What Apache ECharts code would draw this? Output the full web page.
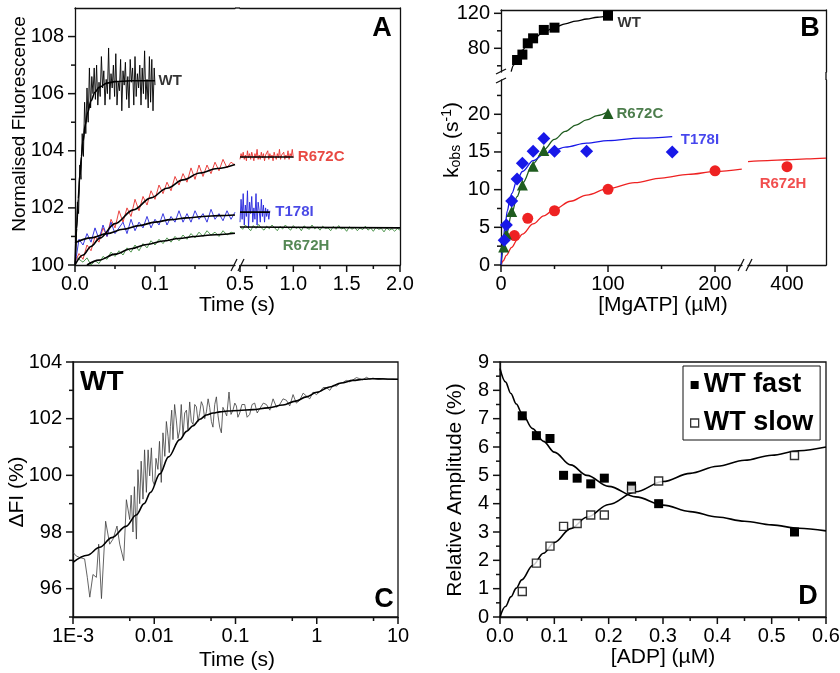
<!DOCTYPE html>
<html><head><meta charset="utf-8">
<script src="https://cdn.jsdelivr.net/npm/echarts@6/dist/echarts.min.js"></script>
<style>html,body{margin:0;padding:0;background:#fff}#c{width:840px;height:673px}</style>
</head><body><div id="c"></div>
<script>
// ================= DATA =================
// ---- Panel A: stopped-flow traces (time s, normalised fluorescence) ----
const aWtT = [0,.0015,.003,.0045,.006,.0075,.009,.0105,.012,.0135,.015,.0165,.018,.0195,.021,.0225,.024,.0255,.027,.0285,.03,.0315,.033,.0345,.036,.0375,.039,.0405,.042,.0435,.045,.0465,.048,.0495,.051,.0525,.054,.0555,.057,.0585,.06,.0615,.063,.0645,.066,.0675,.069,.0705,.072,.0735,.075,.0765,.078,.0795,.081,.0825,.084,.0855,.087,.0885,.09,.0915,.093,.0945,.096,.0975,.099,.1];
const aWtV = [100.0,100.7,102.2,101.8,103.5,103.0,104.6,103.8,105.7,104.6,106.2,105.0,106.9,105.5,106.6,106.0,106.9,105.8,107.0,105.6,106.4,105.9,107.3,106.2,106.8,105.6,106.5,106.0,107.6,105.8,106.7,106.2,107.0,105.9,107.4,105.6,106.4,106.1,107.2,105.4,106.8,106.3,107.1,105.8,106.6,105.5,107.2,106.4,106.9,105.6,107.3,105.9,106.7,106.2,107.0,105.6,106.9,106.0,107.5,105.8,106.5,105.5,107.3,105.7,107.2,105.4,106.9,106.3];
const aWtFitT = [0,.002,.004,.006,.008,.01,.013,.016,.02,.025,.03,.04,.05,.07,.1];
const aWtFitV = [100,101.28,102.31,103.14,103.8,104.33,104.93,105.36,105.75,106.05,106.22,106.37,106.42,106.45,106.45];

const aSeg1T = [0,.005,.01,.015,.02,.025,.03,.035,.04,.045,.05,.055,.06,.065,.07,.075,.08,.085,.09,.095,.1,.105,.11,.115,.12,.125,.13,.135,.14,.145,.15,.155,.16,.165,.17,.175,.18,.185,.19,.195,.2];
const aR672cV1 = [100.1,100.4,100.2,100.7,100.5,101.0,100.8,101.3,101.0,101.6,101.3,101.9,101.5,102.0,101.7,102.3,101.9,102.4,102.1,102.6,102.3,102.8,102.5,102.9,102.6,103.1,102.8,103.2,102.9,103.4,103.0,103.5,103.1,103.5,103.2,103.6,103.3,103.7,103.4,103.6,103.5];
const aT178iV1 = [100.0,100.9,100.7,101.1,100.8,101.3,100.9,101.4,101.0,101.5,101.1,101.3,101.5,101.1,101.6,101.2,101.5,101.3,101.7,101.3,101.6,101.4,101.8,101.4,101.7,101.5,101.9,101.5,101.8,101.5,101.9,101.6,101.8,101.5,101.95,101.6,101.8,101.55,101.9,101.6,101.85];
const aR672hV1 = [100.3,100.2,100.1,100.25,100.0,100.15,100.05,100.3,100.2,100.45,100.3,100.5,100.35,100.6,100.45,100.7,100.5,100.75,100.6,100.85,100.7,100.9,100.75,100.95,100.8,101.0,100.85,101.05,100.9,101.1,100.95,101.15,101.0,101.2,101.05,101.15,101.0,101.2,101.05,101.15,101.1];
const aR672cFitT = [0,.01,.02,.031,.05,.073,.095,.115,.135,.156,.178,.2];
const aR672cFitV = [100,100.35,100.65,100.94,101.45,101.93,102.35,102.69,102.98,103.22,103.38,103.52];
const aT178iFitT = [0,.02,.04,.06,.08,.1,.12,.14,.16,.18,.2];
const aT178iFitV = [100.78,100.95,101.1,101.25,101.38,101.5,101.59,101.65,101.7,101.73,101.75];
const aR672hFitT = [.015,.03,.05,.07,.09,.11,.13,.15,.17,.2];
const aR672hFitV = [100,100.17,100.38,100.57,100.72,100.84,100.93,101.0,101.05,101.11];

const aSeg2T = [.5,.51,.52,.53,.54,.55,.56,.57,.58,.59,.6,.61,.62,.63,.64,.65,.66,.67,.68,.69,.7,.71,.72,.73,.74,.75,.76,.77,.78,.79,.8,.81,.82,.83,.84,.85,.86,.87,.88,.89,.9,.91,.92,.93,.94,.95,.96,.97,.98,.99,1.0];
const aR672cV2 = [103.7,103.9,103.75,103.95,103.7,103.85,103.65,104.0,103.75,103.9,103.7,103.95,103.8,103.65,103.9,103.75,104.05,103.7,103.85,103.7,103.95,103.75,103.9,103.65,103.85,103.8,104.0,103.7,103.9,103.75,103.85,103.65,103.95,103.8,103.7,103.9,103.75,104.05,103.7,103.85,103.8,103.95,103.7,103.85,103.75,104.0,103.7,103.9,103.8,104.05,103.75];
const aT178iV2 = [101.5,102.3,101.6,102.5,101.4,102.1,101.7,102.6,101.3,102.2,101.8,102.4,101.5,102.0,101.6,102.5,101.4,102.2,101.9,101.5,102.3,101.7,102.1,101.5,102.0,101.7,101.95,101.6,101.9];
const aR672hT2 = [.5,.525,.55,.575,.6,.625,.65,.675,.7,.725,.75,.775,.8,.825,.85,.875,.9,.925,.95,.975,1,1.025,1.05,1.075,1.1,1.125,1.15,1.175,1.2,1.225,1.25,1.275,1.3,1.325,1.35,1.375,1.4,1.425,1.45,1.475,1.5,1.525,1.55,1.575,1.6,1.625,1.65,1.675,1.7,1.725,1.75,1.775,1.8,1.825,1.85,1.875,1.9,1.925,1.95,1.975,2];
const aR672hV2 = [101.35,101.25,101.4,101.3,101.2,101.38,101.28,101.42,101.3,101.22,101.36,101.27,101.4,101.3,101.2,101.35,101.26,101.4,101.3,101.22,101.38,101.28,101.33,101.2,101.37,101.3,101.25,101.4,101.27,101.33,101.22,101.36,101.28,101.3,101.2,101.35,101.25,101.38,101.26,101.3,101.18,101.34,101.25,101.32,101.2,101.3,101.24,101.36,101.22,101.3,101.18,101.32,101.25,101.28,101.16,101.3,101.22,101.27,101.18,101.28,101.22];
const aR672cFit2T = [.5,1.0], aR672cFit2V = [103.78,103.78];
const aT178iFit2T = [.5,.78], aT178iFit2V = [101.85,101.85];
const aR672hFit2T = [.5,2.0], aR672hFit2V = [101.33,101.3];

const aYMajor = [100,102,104,106,108], aYMinor = [101,103,105,107];
const aX1Major = [0,0.1], aX1Minor = [0.05,0.15];
const aX2Major = [0.5,1,1.5,2], aX2Minor = [0.75,1.25,1.75];

// ---- Panel B: kobs vs [MgATP] ----
const bWtX = [15,20,25,30,40,50,100];
const bWtY = [66.6,72.8,85.7,91.4,101,103.6,117.3];
const bR672cX = [2.5,5,10,20,30,40,100];
const bR672cY = [2.4,4.1,7.1,10.6,13.1,15.2,20.1];
const bT178iX = [3,5,10,15,20,30,40,50,80,160];
const bT178iY = [3.3,5.3,8.5,11.4,13.5,15.1,16.8,15.1,15.1,15.0];
const bR672hX = [12.5,25,50,100,200,400];
const bR672hY = [3.9,6.2,7.2,10.05,12.5,13.05];
const bWtFitX = [9.5,12,15,20,25,30,40,50,60,70,80,90,100];
const bWtFitY = [53.4,61.05,68.5,78.0,85.1,90.6,98.6,104.0,108.0,111.1,113.5,115.5,117.1];
const bR672cFitX = [0,2,5,10,15,20,30,40,50,60,70,80,90,100];
const bR672cFitY = [0,1.73,3.94,6.84,9.07,10.83,13.45,15.29,16.67,17.73,18.57,19.26,19.83,20.31];
const bT178iFitX = [0,1,2,4,6,8,10,15,20,30,40,50,60,80,100,130,160];
const bT178iFitY = [0,1.8,3.27,5.54,7.2,8.47,9.47,11.25,12.41,13.85,14.69,15.25,15.65,16.18,16.51,16.83,17.04];
const bR672hFitX = [0,2,5,10,15,20,30,40,50,65,80,100,125,150,175,200,225,350,375,400,425,450];
const bR672hFitY = [0,0.53,1.27,2.35,3.29,4.10,5.45,6.53,7.41,8.46,9.28,10.13,10.93,11.54,12.02,12.40,12.72,13.73,13.86,13.97,14.08,14.17];
const bYUpMajor = [80,120], bYUpMinor = [60,100];
const bYLoMajor = [0,5,10,15,20], bYLoMinor = [2.5,7.5,12.5,17.5,22.5];
const bX1Major = [0,100,200], bX1Minor = [50,150];
const bX2Major = [400];

// ---- Panel C: WT trace on log time ----
const cT = [0.001,0.0011,0.00121,0.00139,0.0015,0.00161,0.00176,0.00194,0.00207,0.00224,0.00252,0.00283,0.00311,0.00348,0.00376,0.00421,0.00454,0.00499,0.0052,0.00547,0.0057,0.00603,0.0063,0.00662,0.0069,0.00727,0.0076,0.008,0.0084,0.00879,0.00922,0.0096,0.0101,0.0105,0.0111,0.0116,0.0122,0.0128,0.0135,0.0141,0.0148,0.0153,0.0158,0.0164,0.017,0.0178,0.0187,0.0196,0.0206,0.0215,0.0226,0.0237,0.0249,0.026,0.0273,0.0286,0.03,0.0315,0.033,0.0346,0.0362,0.038,0.0398,0.0418,0.0438,0.046,0.0481,0.0505,0.0528,0.0555,0.0582,0.061,0.0639,0.067,0.07,0.0736,0.078,0.0832,0.088,0.0931,0.098,0.1026,0.107,0.1127,0.12,0.1298,0.139,0.1496,0.16,0.1723,0.185,0.1985,0.22,0.24,0.265,0.29,0.32,0.35,0.385,0.423,0.465,0.511,0.56,0.617,0.68,0.746,0.82,0.9,0.99,1.087,1.2,1.314,1.45,1.585,1.75,1.914,2.1,2.317,2.55,2.793,3.08,3.38,3.7,4.08,4.5,4.92,5.7,6.53,7.5,8.67,10];
const cV = [97.28,97.15,97.1,97.05,96.4,95.7,96.5,96.4,97.57,95.65,98.38,97.57,97.75,98.21,97.57,96.99,99.14,98.44,99.3,98.0,99.6,97.75,100.2,99.0,100.5,99.16,100.9,99.4,100.9,99.98,100.97,99.8,99.63,100.6,100.21,101.2,99.75,101.5,100.67,101.9,101.37,100.8,101.72,102.3,101.26,102.5,101.95,101.3,101.6,102.5,101.4,102.2,102.3,101.6,102.59,101.9,101.8,102.5,102.42,101.9,102.19,102.6,102.45,102.0,102.24,102.7,102.4,101.9,101.7,102.5,102.77,102.1,101.7,101.5,102.4,102.42,102.1,102.94,102.15,102.3,102.55,102.45,102.05,102.2,102.5,102.5,102.05,102.15,102.5,102.55,102.2,102.35,102.55,102.5,102.3,102.7,102.4,102.5,102.7,102.65,102.45,102.85,102.55,102.65,102.9,102.8,102.7,102.94,102.85,102.95,103.1,103.1,103.0,103.18,103.15,103.24,103.28,103.35,103.3,103.37,103.45,103.41,103.37,103.46,103.4,103.43,103.39,103.42,103.38,103.4,103.39];
const cFitT = [0.001,0.0015,0.00213,0.003,0.0045,0.006,0.0075,0.009,0.0117,0.015,0.0206,0.025,0.03,0.0365,0.0438,0.053,0.064,0.08,0.11,0.164,0.25,0.384,0.55,0.746,1.0,1.44,2.0,2.79,3.8,4.88,7,10];
const cFitV = [96.93,97.18,97.46,97.8,98.2,98.6,99.0,99.4,100.05,100.65,101.26,101.55,101.75,101.98,102.13,102.2,102.24,102.27,102.29,102.32,102.38,102.48,102.62,102.77,102.93,103.12,103.26,103.35,103.39,103.41,103.4,103.39];
const cYMajor = [96,98,100,102,104], cYMinor = [95,97,99,101,103];
const cXMajor = [0.001,0.01,0.1,1,10], cXMinor = [0.005,0.05,0.5,5];

// ---- Panel D: relative amplitudes vs [ADP] ----
const dX = [0.041,0.067,0.092,0.117,0.142,0.167,0.192,0.242,0.292,0.542];
const dFastY = [7.1,6.4,6.3,5.0,4.9,4.7,4.9,4.62,4.0,3.0];
const dSlowY = [0.9,1.9,2.5,3.2,3.3,3.6,3.6,4.52,4.8,5.7];
const dFitX = [0,0.01,0.02,0.03,0.04,0.06,0.08,0.1,0.13,0.16,0.2,0.25,0.3,0.35,0.4,0.45,0.5,0.55,0.6];
const dFastFit = [8.77,8.30,7.89,7.52,7.2,6.65,6.2,5.82,5.37,5.0,4.61,4.24,3.95,3.72,3.53,3.38,3.25,3.13,3.04];
const dSlowFit = [0,0.37,0.71,1.02,1.31,1.82,2.25,2.63,3.12,3.52,3.97,4.42,4.78,5.07,5.32,5.53,5.71,5.87,6.0];
const dYMajor = [0,1,2,3,4,5,6,7,8,9], dYMinor = [0.5,1.5,2.5,3.5,4.5,5.5,6.5,7.5,8.5];
const dXMajor = [0,0.1,0.2,0.3,0.4,0.5,0.6], dXMinor = [0.05,0.15,0.25,0.35,0.45,0.55];

// ================= STYLE / LAYOUT =================
const FONT = "'Liberation Sans', Arial, Helvetica, sans-serif";
const INK = '#111';
const COL = {red:'#e8302c', blue:'#2424dc', green:'#3d8c3d', dgreen:'#2b6a2b', bgreen:'#1f5c1f', bblue:'#1818e8', bred:'#ee2222', grey:'#3c3c3c'};
const TICK = 7, MINOR = 4;
const L = {
  A1:{left:75, top:8, width:160, height:257},
  A2:{left:240, top:8, width:160, height:257},
  BU:{left:501, top:10, width:325, height:62},
  BL:{left:501, top:80, width:241, height:185},
  BR:{left:748, top:80, width:78, height:185},
  C:{left:73, top:362, width:325, height:255},
  D:{left:500, top:362, width:326, height:255}
};
const gridKeys = ['A1','A2','BU','BL','BR','C','D'];
const grid = gridKeys.map(k => {
  const g = Object.assign({outerBoundsMode:'none', containLabel:false}, L[k]);
  if (k === 'C' || k === 'D') { g.show = true; g.borderColor = INK; g.borderWidth = 1.3; g.backgroundColor = 'transparent'; }
  return g;
});
const G = {}; gridKeys.forEach((k, i) => G[k] = i);

const xAxis = [], yAxis = [];
function base(gi, pos, min, max, type) {
  const a = {type: type || 'value', gridIndex: gi, position: pos, min: min, max: max,
    axisLine: {show: false, onZero: false, lineStyle: {color: INK, width: 1.3}},
    axisTick: {show: false},
    axisLabel: {show: false, color: '#000', fontSize: 20, fontFamily: FONT, margin: (pos === 'left' || pos === 'right') ? 11 : 9},
    splitLine: {show: false}, minorTick: {show: false}, minorSplitLine: {show: false}};
  if (type === 'log') a.logBase = 10;
  return a;
}
function addMain(list, gi, pos, min, max, major, fmt, type) {
  const a = base(gi, pos, min, max, type);
  a.axisLine.show = true;
  a.axisLabel.show = true; a.axisLabel.customValues = major;
  if (fmt) a.axisLabel.formatter = fmt;
  list.push(a); return list.length - 1;
}
function addLine(list, gi, pos, min, max, type) {
  const a = base(gi, pos, min, max, type);
  a.axisLine.show = true;
  list.push(a); return list.length - 1;
}
const f1 = v => Number(v).toFixed(1);
const fLog = v => (v < 0.0015 ? '1E-3' : String(parseFloat(Number(v).toPrecision(2))));

// Panel A axes
const xA1 = addMain(xAxis, G.A1, 'bottom', 0, 0.2, aX1Major, f1);
addLine(xAxis, G.A1, 'top', 0, 0.2);
const yA1 = addMain(yAxis, G.A1, 'left', 100, 109, aYMajor);
const xA2 = addMain(xAxis, G.A2, 'bottom', 0.5, 2, aX2Major, f1);
addLine(xAxis, G.A2, 'top', 0.5, 2);
const yA2 = addLine(yAxis, G.A2, 'right', 100, 109);
// Panel B axes
const xBU = addLine(xAxis, G.BU, 'top', 0, 303.7);
const yBU = addMain(yAxis, G.BU, 'left', 52.9, 123.8, bYUpMajor);
addLine(yAxis, G.BU, 'right', 52.9, 123.8);
const xBL = addMain(xAxis, G.BL, 'bottom', 0, 225.2, bX1Major);
const yBL = addMain(yAxis, G.BL, 'left', 0, 24.55, bYLoMajor);
const xBR = addMain(xAxis, G.BR, 'bottom', 350, 450, bX2Major);
const yBR = addLine(yAxis, G.BR, 'right', 0, 24.55);
// Panel C axes
const xC = addMain(xAxis, G.C, 'bottom', 0.001, 10, cXMajor, fLog, 'log');
const yC = addMain(yAxis, G.C, 'left', 95, 104, cYMajor);
// Panel D axes
const xD = addMain(xAxis, G.D, 'bottom', 0, 0.6, dXMajor, f1);
const yD = addMain(yAxis, G.D, 'left', 0, 9, dYMajor);

// ================= SERIES =================
function zip(xs, ys, keep) {
  const n = Math.min(xs.length, ys.length), out = [];
  for (let i = 0; i < n; i++) if (!keep || keep(xs[i])) out.push([xs[i], ys[i]]);
  return out;
}
function line(xi, yi, xs, ys, color, width, extra) {
  return Object.assign({type: 'line', xAxisIndex: xi, yAxisIndex: yi, data: zip(xs, ys), symbol: 'none', showSymbol: false,
    lineStyle: {color: color, width: width}, itemStyle: {color: color}, silent: true, clip: true, z: 3}, extra || {});
}
function dots(xi, yi, data, symbol, size, color, extra) {
  return Object.assign({type: 'scatter', xAxisIndex: xi, yAxisIndex: yi, data: data, symbol: symbol, symbolSize: size,
    itemStyle: {color: color, opacity: 1}, silent: true, z: 4}, extra || {});
}
function tag(xi, yi, x, y, text, color, pos, dist) {
  return {type: 'scatter', xAxisIndex: xi, yAxisIndex: yi, data: [[x, y]], symbol: 'circle', symbolSize: 1,
    itemStyle: {color: 'rgba(0,0,0,0)'}, silent: true, z: 6,
    label: {show: true, formatter: text, position: pos, distance: dist, color: color, fontSize: 15, fontWeight: 'bold', fontFamily: FONT}};
}
// axis tick marks placed through the axis scales (outward from the axis line)
function ticks(xi, yi, dir, values, at, len) {
  return {type: 'custom', xAxisIndex: xi, yAxisIndex: yi, clip: false, z: 8,
    data: values.map(v => dir === 'x' ? [v, at] : [at, v]),
    renderItem: function (params, api) {
      const p = api.coord([api.value(0), api.value(1)]);
      const shape = dir === 'x' ? {x1: p[0], y1: p[1], x2: p[0], y2: p[1] + len}
                                : {x1: p[0], y1: p[1], x2: p[0] - len, y2: p[1]};
      return {type: 'line', shape: shape, style: {stroke: INK, lineWidth: 1.5}};
    }};
}
const smooth = {smooth: 0.35, smoothMonotone: 'x'};
const series = [
  // Panel A, first time segment
  line(xA1, yA1, aSeg1T, aR672hV1, COL.green, 0.9),
  line(xA1, yA1, aSeg1T, aR672cV1, COL.red, 0.9),
  line(xA1, yA1, aSeg1T, aT178iV1, COL.blue, 0.9),
  line(xA1, yA1, aWtT, aWtV, '#000', 0.9),
  line(xA1, yA1, aR672hFitT, aR672hFitV, '#000', 1.6, smooth),
  line(xA1, yA1, aR672cFitT, aR672cFitV, '#000', 1.6, smooth),
  line(xA1, yA1, aT178iFitT, aT178iFitV, '#000', 1.6, smooth),
  line(xA1, yA1, aWtFitT, aWtFitV, '#000', 1.6, smooth),
  // Panel A, second time segment
  line(xA2, yA2, aR672hT2, aR672hV2, COL.green, 0.9),
  line(xA2, yA2, aSeg2T, aR672cV2, COL.red, 0.9),
  line(xA2, yA2, aSeg2T, aT178iV2, COL.blue, 0.9),
  line(xA2, yA2, aR672hFit2T, aR672hFit2V, '#000', 1.6),
  line(xA2, yA2, aR672cFit2T, aR672cFit2V, '#000', 1.6),
  line(xA2, yA2, aT178iFit2T, aT178iFit2V, '#000', 1.6),
  tag(xA1, yA1, 0.1, 106.45, 'WT', '#000', 'right', 3),
  tag(xA2, yA2, 1.0, 103.78, 'R672C', '#e21a12', 'right', 4),
  tag(xA2, yA2, 0.78, 101.85, 'T178I', '#1c1ce0', 'right', 5),
  tag(xA2, yA2, 1.119, 100.67, 'R672H', COL.dgreen, 'inside', 0),
  ticks(xA1, yA1, 'x', aX1Major, 100, TICK), ticks(xA1, yA1, 'x', aX1Minor, 100, MINOR),
  ticks(xA1, yA1, 'y', aYMajor, 0, TICK), ticks(xA1, yA1, 'y', aYMinor, 0, MINOR),
  ticks(xA2, yA2, 'x', aX2Major, 100, TICK), ticks(xA2, yA2, 'x', aX2Minor, 100, MINOR),
  // Panel B
  line(xBU, yBU, bWtFitX, bWtFitY, '#000', 1.3, smooth),
  dots(xBU, yBU, zip(bWtX, bWtY), 'rect', 10, '#000'),
  line(xBL, yBL, bR672hFitX, bR672hFitY, COL.bred, 1.3, Object.assign({data: zip(bR672hFitX, bR672hFitY, x => x <= 225.2)}, smooth)),
  line(xBR, yBR, bR672hFitX, bR672hFitY, COL.bred, 1.3, Object.assign({data: zip(bR672hFitX, bR672hFitY, x => x >= 350)}, smooth)),
  line(xBL, yBL, bR672cFitX, bR672cFitY, COL.bgreen, 1.3, smooth),
  line(xBL, yBL, bT178iFitX, bT178iFitY, COL.bblue, 1.3, smooth),
  dots(xBL, yBL, zip(bR672hX, bR672hY, x => x <= 225.2), 'circle', 11, COL.bred),
  dots(xBR, yBR, zip(bR672hX, bR672hY, x => x >= 350), 'circle', 11, COL.bred),
  dots(xBL, yBL, zip(bR672cX, bR672cY), 'triangle', 11, COL.bgreen),
  dots(xBL, yBL, zip(bT178iX, bT178iY), 'diamond', 13, COL.bblue),
  tag(xBU, yBU, 100, 108.9, 'WT', '#000', 'right', 9),
  tag(xBL, yBL, 100, 20.1, 'R672C', COL.bgreen, 'right', 8),
  tag(xBL, yBL, 160, 16.6, 'T178I', COL.bblue, 'right', 8),
  tag(xBR, yBR, 394.9, 10.75, 'R672H', COL.bred, 'inside', 0),
  ticks(xBU, yBU, 'y', bYUpMajor, 0, TICK), ticks(xBU, yBU, 'y', bYUpMinor, 0, MINOR),
  ticks(xBL, yBL, 'y', bYLoMajor, 0, TICK), ticks(xBL, yBL, 'y', bYLoMinor, 0, MINOR),
  ticks(xBL, yBL, 'x', bX1Major, 0, TICK), ticks(xBL, yBL, 'x', bX1Minor, 0, MINOR),
  ticks(xBR, yBR, 'x', bX2Major, 0, TICK),
  // Panel C
  line(xC, yC, cT, cV, COL.grey, 0.8),
  line(xC, yC, cFitT, cFitV, '#000', 1.6, smooth),
  ticks(xC, yC, 'x', cXMajor, 95, TICK), ticks(xC, yC, 'x', cXMinor, 95, MINOR),
  ticks(xC, yC, 'y', cYMajor, 0.001, TICK), ticks(xC, yC, 'y', cYMinor, 0.001, MINOR),
  // Panel D
  line(xD, yD, dFitX, dFastFit, '#000', 1.6, smooth),
  line(xD, yD, dFitX, dSlowFit, '#000', 1.6, smooth),
  dots(xD, yD, zip(dX, dFastY), 'rect', 9, '#000', {name: 'WT fast'}),
  dots(xD, yD, zip(dX, dSlowY), 'rect', 8, '#fff', {name: 'WT slow', itemStyle: {color: '#fff', borderColor: '#000', borderWidth: 1.4}}),
  ticks(xD, yD, 'x', dXMajor, 0, TICK), ticks(xD, yD, 'x', dXMinor, 0, MINOR),
  ticks(xD, yD, 'y', dYMajor, 0, TICK), ticks(xD, yD, 'y', dYMinor, 0, MINOR)
];

// ================= TEXT / FRAME DECORATIONS =================
function txt(x, y, text, size, o) {
  o = o || {};
  return {type: 'text', x: x, y: y, rotation: o.rot || 0, silent: true, z: 100,
    style: {text: text, fontSize: size, fontFamily: FONT, fontWeight: o.bold ? 'bold' : 'normal', fill: o.color || '#000',
      align: o.align || 'center', verticalAlign: 'middle', textAlign: o.align || 'center', textVerticalAlign: 'middle', rich: o.rich}};
}
function seg(x1, y1, x2, y2) {
  return {type: 'line', silent: true, z: 100, shape: {x1: x1, y1: y1, x2: x2, y2: y2}, style: {stroke: INK, lineWidth: 1.3}};
}
const R90 = Math.PI / 2;
const aBx = L.A1.left + L.A1.width, aBx2 = L.A2.left, aBot = L.A1.top + L.A1.height;
const bBx = L.BL.left + L.BL.width, bBx2 = L.BR.left, bBot = L.BL.top + L.BL.height;
const bRight = L.BU.left + L.BU.width, bUpBot = L.BU.top + L.BU.height, bLoTop = L.BL.top;
const graphic = [
  seg(aBx, L.A1.top, aBx2, L.A1.top),
  seg(aBx - 4, aBot + 6, aBx + 2, aBot - 6), seg(aBx2 - 2, aBot + 6, aBx2 + 4, aBot - 6),
  seg(bRight, bUpBot, bRight, bLoTop),
  seg(bBx - 4, bBot + 6, bBx + 2, bBot - 6), seg(bBx2 - 2, bBot + 6, bBx2 + 4, bBot - 6),
  seg(L.BU.left - 5, bUpBot + 2, L.BU.left + 5, bUpBot - 3), seg(L.BU.left - 5, bLoTop + 3, L.BU.left + 5, bLoTop - 2),
  txt(20, 124, 'Normalised Fluorescence', 19, {rot: R90}),
  txt(237, 305, 'Time (s)', 21),
  txt(452, 140, '{k|k}{s|obs}{k| (s}{p|-1}{k|)}', 21, {rot: R90, rich: {
    k: {fontSize: 21, fontFamily: FONT, fill: '#000'},
    s: {fontSize: 14, fontFamily: FONT, fill: '#000', padding: [9, 0, 0, 0]},
    p: {fontSize: 14, fontFamily: FONT, fill: '#000', padding: [0, 0, 9, 0]}}}),
  txt(663, 305, '[MgATP] (µM)', 21),
  txt(17, 492, 'ΔFI (%)', 21, {rot: R90}),
  txt(237, 660, 'Time (s)', 21),
  txt(455, 490, 'Relative Amplitude (%)', 21, {rot: R90}),
  txt(663, 657, '[ADP] (µM)', 21),
  txt(382, 29, 'A', 27, {bold: true}),
  txt(810, 29, 'B', 27, {bold: true}),
  txt(384, 600, 'C', 27, {bold: true}),
  txt(808, 597, 'D', 27, {bold: true}),
  txt(80, 382, 'WT', 28, {bold: true, align: 'left'})
];

const option = {
  animation: false,
  backgroundColor: '#fff',
  grid: grid, xAxis: xAxis, yAxis: yAxis, series: series, graphic: graphic,
  legend: {show: true, orient: 'vertical', left: 683, top: 366, itemWidth: 8, itemHeight: 8, itemGap: 8,
    padding: [4, 7, 2, 7], borderColor: INK, borderWidth: 1, backgroundColor: '#fff', selectedMode: false,
    textStyle: {fontSize: 27, fontWeight: 'bold', fontFamily: FONT, color: '#000', lineHeight: 30},
    data: [{name: 'WT fast', icon: 'rect', itemStyle: {color: '#000'}},
           {name: 'WT slow', icon: 'rect', itemStyle: {color: '#fff', borderColor: '#000', borderWidth: 1.3}}]}
};
const chart = echarts.init(document.getElementById('c'), null, {renderer: 'canvas'});
chart.setOption(option);
</script>
</body></html>
